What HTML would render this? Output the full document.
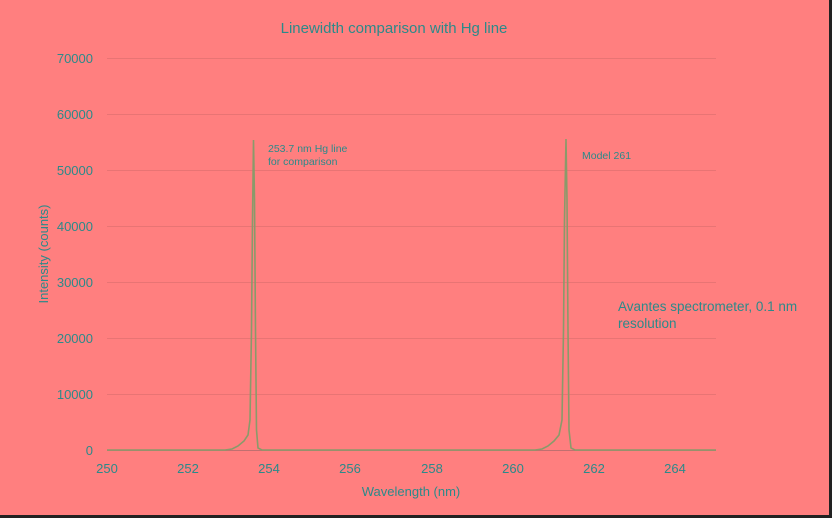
<!DOCTYPE html>
<html><head><style>
body{margin:0;}
.c{position:relative;width:832px;height:518px;background:#ff7f7f;font-family:"Liberation Sans",sans-serif;overflow:hidden}
svg{position:absolute;left:0;top:0}
text{fill:#2b8a8a;font-family:"Liberation Sans",sans-serif}
</style></head><body><div class="c">
<svg width="832" height="518">
<rect x="829" y="0" width="3" height="518" fill="#222"/>
<rect x="0" y="515" width="832" height="3" fill="#222"/>
<g stroke="#e87474" stroke-width="1">
<line x1="107" x2="716" y1="58.5" y2="58.5"/>
<line x1="107" x2="716" y1="114.5" y2="114.5"/>
<line x1="107" x2="716" y1="170.5" y2="170.5"/>
<line x1="107" x2="716" y1="226.5" y2="226.5"/>
<line x1="107" x2="716" y1="282.5" y2="282.5"/>
<line x1="107" x2="716" y1="338.5" y2="338.5"/>
<line x1="107" x2="716" y1="394.5" y2="394.5"/>
</g>
<line x1="107" x2="716" y1="450.5" y2="450.5" stroke="#c07070" stroke-width="1"/>
<polyline fill="none" stroke="#8a9a6a" stroke-width="1.6" points="107,450 225,450 232,449 238,446 244,441 248,435 250,420 251.5,330 252.5,220 253.5,140 254.5,200 255.5,330 256.5,430 258,448 262,450 535,450 542,449 548,446 554,441 559,435 562,420 563.5,330 564.5,220 566,139 567,200 568,330 569,430 571,448 575,450 716,450"/>
<g font-size="13" text-anchor="end">
<text x="93" y="63">70000</text><text x="93" y="119">60000</text><text x="93" y="175">50000</text>
<text x="93" y="231">40000</text><text x="93" y="287">30000</text><text x="93" y="343">20000</text>
<text x="93" y="399">10000</text><text x="93" y="455">0</text>
</g>
<g font-size="13" text-anchor="middle">
<text x="107" y="473">250</text><text x="188" y="473">252</text><text x="269" y="473">254</text>
<text x="350" y="473">256</text><text x="432" y="473">258</text><text x="513" y="473">260</text>
<text x="594" y="473">262</text><text x="675" y="473">264</text>
</g>
<text x="411" y="496" font-size="13" text-anchor="middle">Wavelength (nm)</text>
<text transform="translate(48,254) rotate(-90)" font-size="13" text-anchor="middle">Intensity (counts)</text>
<text x="394" y="33" font-size="15" text-anchor="middle">Linewidth comparison with Hg line</text>
<text x="268" y="152" font-size="10.5">253.7 nm Hg line</text>
<text x="268" y="165" font-size="10.5">for comparison</text>
<text x="582" y="159" font-size="10.5">Model 261</text>
<text x="618" y="311" font-size="13.5">Avantes spectrometer, 0.1 nm</text>
<text x="618" y="328" font-size="13.5">resolution</text>
</svg>
</div></body></html>
